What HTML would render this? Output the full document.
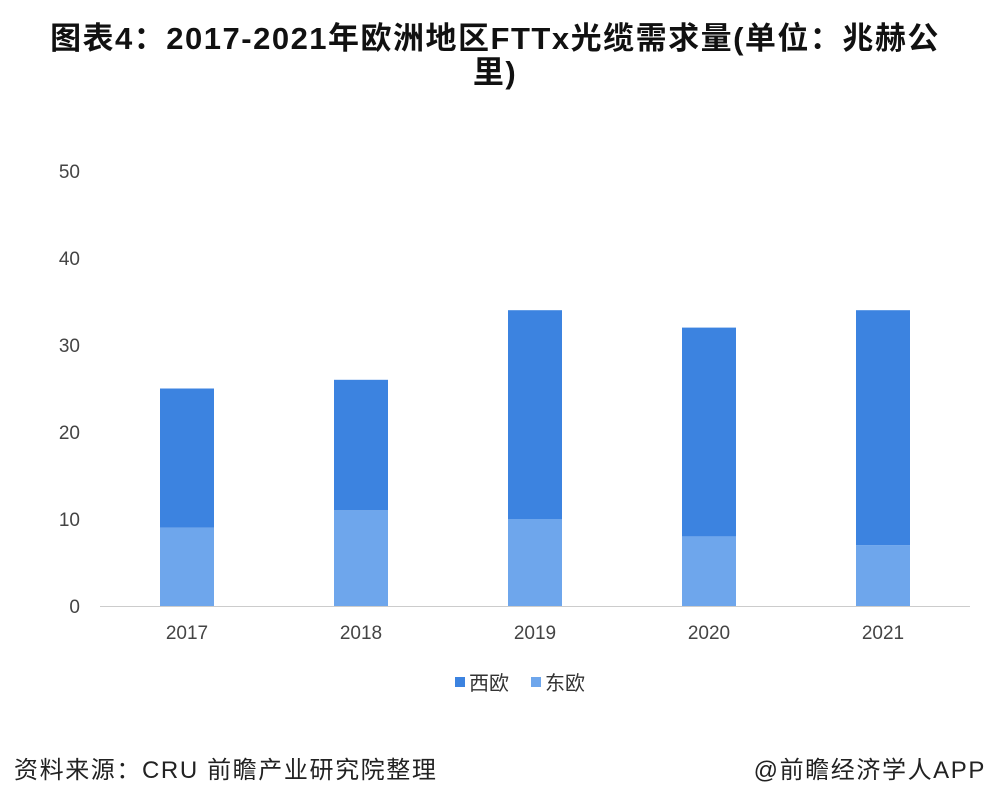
<!DOCTYPE html>
<html><head><meta charset="utf-8"><style>
body{margin:0;background:#fff;width:990px;height:806px;overflow:hidden;font-family:"Liberation Sans","Noto Sans CJK SC",sans-serif;}
#title{position:absolute;left:0;top:22px;width:990px;text-align:center;font-weight:bold;font-size:31px;letter-spacing:1.5px;line-height:34px;color:#111;white-space:nowrap;}
#src{position:absolute;left:14px;top:750px;font-size:24px;letter-spacing:1.6px;color:#222;}
#app{position:absolute;right:4px;top:750px;font-size:24px;letter-spacing:1.6px;color:#222;}
</style></head><body>
<div id="title">图表4：2017-2021年欧洲地区FTTx光缆需求量(单位：兆赫公<br>里)</div>
<svg id="chart" width="990" height="806" style="position:absolute;left:0;top:0"></svg>
<div id="src">资料来源：CRU 前瞻产业研究院整理</div>
<div id="app">@前瞻经济学人APP</div>
<script>
const categories=["2017","2018","2019","2020","2021"];
const westValues=[16,15,24,24,27];
const eastValues=[9,11,10,8,7];
const yTicks=[0,10,20,30,40,50];
const svg=document.getElementById('chart');
const NS='http://www.w3.org/2000/svg';
const x0=100,x1=970,y0=606,yTop=171;
const yScale=v=>y0-(v/50)*(y0-yTop);
const band=(x1-x0)/categories.length;
const xC=i=>x0+band*(i+0.5);
function mk(t,a){const e=document.createElementNS(NS,t);for(const k in a)e.setAttribute(k,a[k]);svg.appendChild(e);return e;}
yTicks.forEach(t=>{
 const l=mk('text',{x:80,y:yScale(t)+7,'text-anchor':'end','font-size':19,fill:'#444'});
 l.textContent=t;
 
 
});
const ax=mk('line',{x1:x0,x2:x1,y1:y0+0.5,y2:y0+0.5,stroke:'#ccc'});


categories.forEach((c,i)=>{
 const bw=54,x=xC(i)-bw/2;
 const e=mk('rect',{x:x,y:yScale(eastValues[i]),width:bw,height:y0-yScale(eastValues[i]),fill:'#6ea6ec'});
 
 
 const tot=eastValues[i]+westValues[i];
 const w=mk('rect',{x:x,y:yScale(tot),width:bw,height:yScale(eastValues[i])-yScale(tot),fill:'#3c83e0'});
 
 
 const t=mk('text',{x:xC(i),y:639,'text-anchor':'middle','font-size':19,fill:'#444'});
 t.textContent=c;
 
 
});
[[455,'#3c83e0','西欧','legend-west'],[531,'#6ea6ec','东欧','legend-east']].forEach(d=>{
 const r=mk('rect',{x:d[0],y:677,width:10,height:10,fill:d[1]});
 
 
 const t=mk('text',{x:d[0]+14,y:690,'font-size':20,fill:'#333'});
 t.textContent=d[2];
 
 
});
</script>
</body></html>
